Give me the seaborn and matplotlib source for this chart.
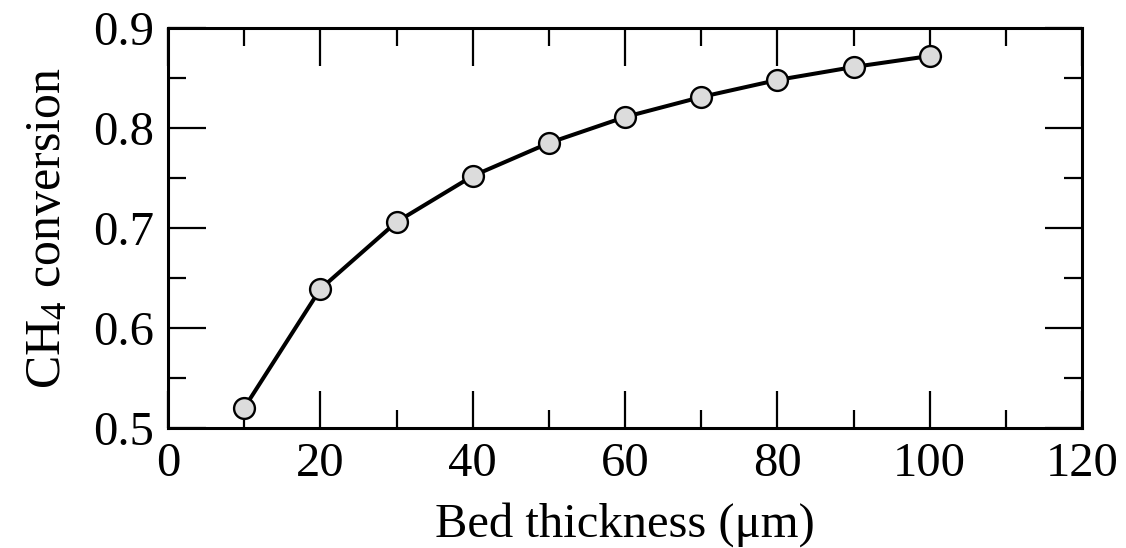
import matplotlib
matplotlib.use("Agg")
import matplotlib.pyplot as plt
import seaborn as sns
import pandas as pd
from matplotlib.ticker import MultipleLocator

bed_thickness = [10, 20, 30, 40, 50, 60, 70, 80, 90, 100]
ch4_conversion = [0.520, 0.639, 0.706, 0.752, 0.785, 0.811, 0.831, 0.848, 0.861, 0.872]

sns.set_theme(style="ticks")
plt.rcParams['font.family'] = ['Liberation Serif', 'DejaVu Serif']
plt.rcParams['mathtext.fontset'] = 'custom'
plt.rcParams['mathtext.rm'] = 'Liberation Serif'
plt.rcParams['mathtext.it'] = 'Liberation Serif:italic'
for k in ['text.color', 'axes.labelcolor', 'xtick.color', 'ytick.color', 'xtick.labelcolor', 'ytick.labelcolor']:
    plt.rcParams[k] = 'black'

df = pd.DataFrame({"x": bed_thickness, "y": ch4_conversion})

fig = plt.figure(figsize=(11.26, 5.48), dpi=100)
ax = fig.add_axes([0.1492, 0.219, 0.9610 - 0.1492, 0.9489 - 0.219])

sns.lineplot(data=df, x="x", y="y", ax=ax, color="black", linewidth=2.9,
             marker="o", markersize=15, markerfacecolor="#dcdcdc",
             markeredgecolor="black", markeredgewidth=1.7)

ax.set_xlim(0, 120)
ax.set_ylim(0.5, 0.9)
ax.xaxis.set_major_locator(MultipleLocator(20))
ax.xaxis.set_minor_locator(MultipleLocator(10))
ax.yaxis.set_major_locator(MultipleLocator(0.1))
ax.yaxis.set_minor_locator(MultipleLocator(0.05))
ax.tick_params(which="both", direction="in", top=True, right=True,
               width=1.6, color="black", labelsize=35, pad=10)
ax.tick_params(which="major", length=27)
ax.tick_params(which="minor", length=13)
for s in ax.spines.values():
    s.set_linewidth(2.2)
    s.set_color("black")

ax.set_xlabel("Bed thickness (μm)", fontsize=35, labelpad=12)
ax.set_ylabel(r"CH$_4$ conversion", fontsize=36, labelpad=16)

fig.savefig("out.png", dpi=100)
